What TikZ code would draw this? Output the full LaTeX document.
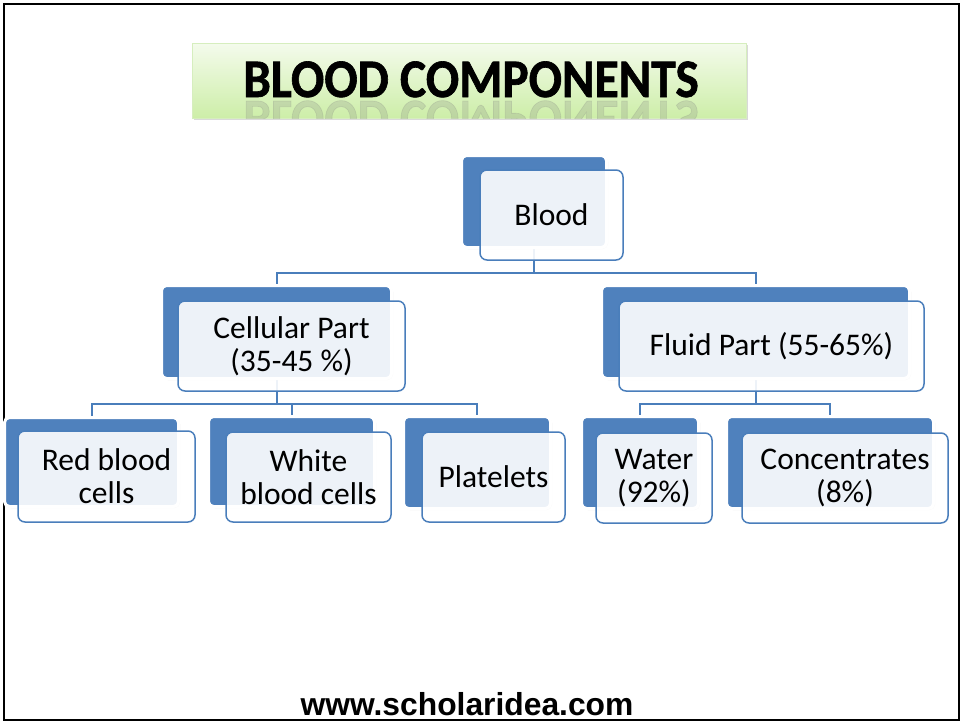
\documentclass[tikz,border=0pt]{standalone}
\usepackage{fontspec}
\setmainfont{Carlito}
\newfontfamily\webfont{Liberation Sans}
\newfontfamily\headfont{Carlito Bold}[FakeBold=1.2]
\usetikzlibrary{shadows, backgrounds}

\definecolor{boxblue}{RGB}{79,129,189}
\definecolor{lineblue}{RGB}{74,126,187}
\definecolor{titletop}{RGB}{244,251,236}
\definecolor{titlebottom}{RGB}{205,238,168}
\definecolor{titleedge}{RGB}{214,238,190}

\begin{document}
\begin{tikzpicture}[
        x=1pt,
        y=-1pt,
        every node/.style={font=\fontsize{31.5}{33}\selectfont, align=center, inner sep=0pt},
        bluebox/.style 2 args={fill=boxblue, draw=white, line width=3pt, rounded corners=5pt,
            minimum width=#1pt+3pt, minimum height=#2pt+3pt,
            drop shadow={shadow xshift=1.5pt, shadow yshift=-1.5pt, opacity=0.25}},
        lightbox/.style 2 args={fill=white, fill opacity=0.9, text opacity=1, draw=lineblue,
            line width=1.5pt, rounded corners=7pt, minimum width=#1pt, minimum height=#2pt},
        link/.style={draw=lineblue, line width=2pt},
        titlefont/.style={font=\fontsize{49.4}{50}\selectfont\headfont}
    ]
    \useasboundingbox (0,0) rectangle (961,723);
    \draw[line width=2pt] (4,4) rectangle (959,720);

    \node[minimum width=554pt, minimum height=75pt, top color=titletop, bottom color=titlebottom,
        draw=titleedge, line width=1pt,
        drop shadow={opacity=0.3, shadow xshift=1.5pt, shadow yshift=-2pt}] (tbox) at (469,80.5) {};
    \node[titlefont, anchor=base] (title) at (471,97) {\scalebox{1}[1.1]{BLOOD COMPONENTS}};
    \begin{scope}
        \clip (tbox.north west) rectangle (tbox.south east);
        \node[titlefont, anchor=base, text=black!50, text opacity=0.22] (title-r) at (471,101)
            {\scalebox{1}[-1.1]{BLOOD COMPONENTS}};
    \end{scope}

    \node[bluebox={142}{89}] (blood-b) at (534,201.5) {};
    \node[lightbox={143}{90}] (blood) at (551.5,215) {Blood};

    \node[bluebox={227}{90}] (cell-b) at (276.5,332) {};
    \node[lightbox={227}{90}] (cell) at (291.5,346) {Cellular Part\\(35-45 \%)};
    \node[bluebox={305}{90}] (fluid-b) at (755.5,332) {};
    \node[lightbox={305}{90}] (fluid) at (771.5,346) {Fluid Part (55-65\%)};

    \node[bluebox={171}{86}] (rbc-b) at (91.5,462) {};
    \node[lightbox={177}{91}] (rbc) at (106.5,476.5) {Red blood\\cells};
    \node[bluebox={163}{87}] (wbc-b) at (291.5,461.5) {};
    \node[lightbox={165}{90}] (wbc) at (308.5,477) {White\\blood cells};
    \node[bluebox={144}{89}] (plt-b) at (477,462.5) {};
    \node[lightbox={143}{90}] (plt) at (493.5,477) {Platelets};
    \node[bluebox={114}{89}] (water-b) at (640,462.5) {};
    \node[lightbox={116}{90}] (water) at (654,478) {Water\\(92\%)};
    \node[bluebox={204}{89}] (conc-b) at (830,462.5) {};
    \node[lightbox={206}{90}] (conc) at (845,478) {Concentrates\\(8\%)};

    \begin{scope}[on background layer]
        \coordinate (j1) at (534,273);
        \coordinate (j2) at (276.5,404);
        \coordinate (j3) at (755.5,404);
        \draw[link] (blood-b.south) -- (j1);
        \draw[link] (cell-b.north) |- (j1) -| (fluid-b.north);
        \draw[link] (cell-b.south) -- (j2) -| (wbc-b.north);
        \draw[link] (rbc-b.north) |- (j2) -| (plt-b.north);
        \draw[link] (fluid-b.south) -- (j3);
        \draw[link] (water-b.north) |- (j3) -| (conc-b.north);
    \end{scope}

    \node[anchor=base, font=\webfont\bfseries\fontsize{31.8}{34}\selectfont] (web) at (467,715) {www.scholaridea.com};
\end{tikzpicture}
\end{document}
